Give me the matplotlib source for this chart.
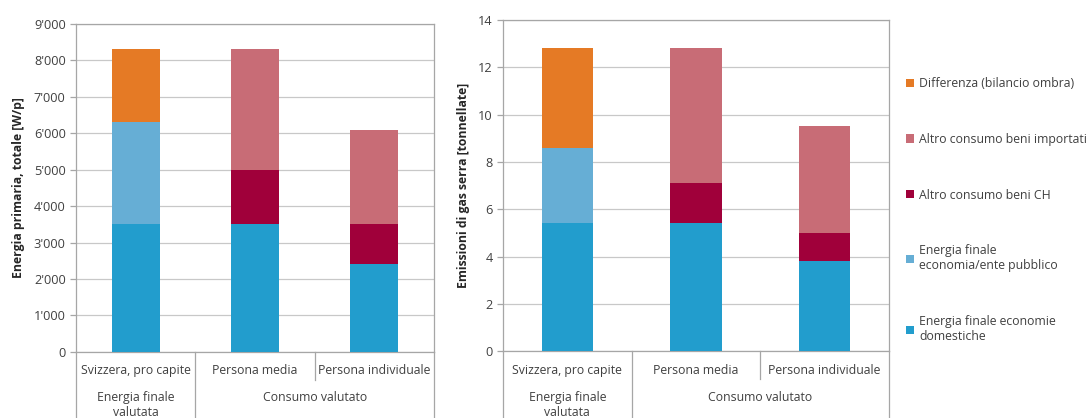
import matplotlib
matplotlib.use('Agg')
from matplotlib import pyplot as plt
from matplotlib.ticker import FuncFormatter, MultipleLocator

plt.rcParams['font.family'] = ['Open Sans', 'DejaVu Sans']

categories = ['Svizzera, pro capite', 'Persona media', 'Persona individuale']
groups = ['Energia finale\nvalutata', 'Consumo valutato']

series = ['Energia finale economie\ndomestiche', 'Energia finale\neconomia/ente pubblico',
          'Altro consumo beni CH', 'Altro consumo beni importati',
          'Differenza (bilancio ombra)']
colors = ['#229dcd', '#66aed5', '#a0003a', '#c86c76', '#e57a25']

# primary energy, W per person
energia_dom = [3500, 3500, 2400]
energia_pub = [2800, 0, 0]
beni_ch = [0, 1500, 1100]
beni_imp = [0, 3300, 2600]
differenza = [2000, 0, 0]

# greenhouse gas emissions, tonnes
gas_dom = [5.4, 5.4, 3.8]
gas_pub = [3.2, 0, 0]
gas_ch = [0, 1.7, 1.2]
gas_imp = [0, 5.7, 4.5]
gas_diff = [4.2, 0, 0]

TXT = '#404040'
LINE = '#a6a6a6'
FS = 8.8


def stacked(ax, stacks, ylim, step, ylabel, fmt):
    x = range(len(categories))
    bottom = [0] * len(categories)
    bars = []
    for vals, col, lab in zip(stacks, colors, series):
        b = ax.bar(x, vals, 0.4, bottom=bottom, color=col, label=lab, zorder=3)
        bars.append(b)
        bottom = [a + v for a, v in zip(bottom, vals)]
    ax.set_xlim(-0.5, len(categories) - 0.5)
    ax.set_ylim(0, ylim)
    ax.yaxis.set_major_locator(MultipleLocator(step))
    ax.yaxis.set_major_formatter(FuncFormatter(fmt))
    ax.grid(axis='y', color='#c8c8c8', linewidth=0.9, zorder=0)
    for s in ax.spines.values():
        s.set_color(LINE)
        s.set_linewidth(0.9)
    ax.tick_params(axis='y', colors=TXT, labelsize=FS + 0.4, length=4, width=0.9, color=LINE)
    ax.tick_params(axis='x', bottom=False, labelbottom=False)
    ax.set_ylabel(ylabel, fontsize=FS, fontweight='bold', color='#262626', labelpad=6)

    # two-level category axis below the plot
    tr = ax.transAxes
    n = len(categories)
    for i in range(n + 1):
        xa = i / n
        low = -0.085 if i == 2 else -0.3
        ax.plot([xa, xa], [0, low], transform=tr, color=LINE, lw=0.9, clip_on=False)
    for i, c in enumerate(categories):
        ax.text((i + 0.5) / n, -0.058, c, transform=tr, ha='center', va='center',
                fontsize=FS, color=TXT)
    ax.text(0.5 / n, -0.12, groups[0], transform=tr, ha='center', va='top',
            fontsize=FS, color=TXT, linespacing=1.2)
    ax.text(2 / n, -0.12, groups[1], transform=tr, ha='center', va='top',
            fontsize=FS, color=TXT)
    return bars


fig = plt.figure(figsize=(10.88, 4.18), dpi=100)
ax1 = fig.add_axes([0.0699, 0.158, 0.329, 0.785])
ax2 = fig.add_axes([0.4623, 0.160, 0.3548, 0.792])

stacked(ax1, [energia_dom, energia_pub, beni_ch, beni_imp, differenza], 9000, 1000,
        'Energia primaria, totale [W/p]', lambda v, p: f'{int(v):,}'.replace(',', "'"))
bars = stacked(ax2, [gas_dom, gas_pub, gas_ch, gas_imp, gas_diff], 14, 2,
               'Emissioni di gas serra [tonnellate]', lambda v, p: f'{int(v)}')

leg = fig.legend(bars[::-1], series[::-1], loc='upper left', bbox_to_anchor=(0.823, 0.842),
                 frameon=False, fontsize=FS, labelspacing=3.5, handlelength=0.65,
                 handleheight=0.65, handletextpad=0.4, labelcolor=TXT)

fig.savefig('out.png', dpi=100)
